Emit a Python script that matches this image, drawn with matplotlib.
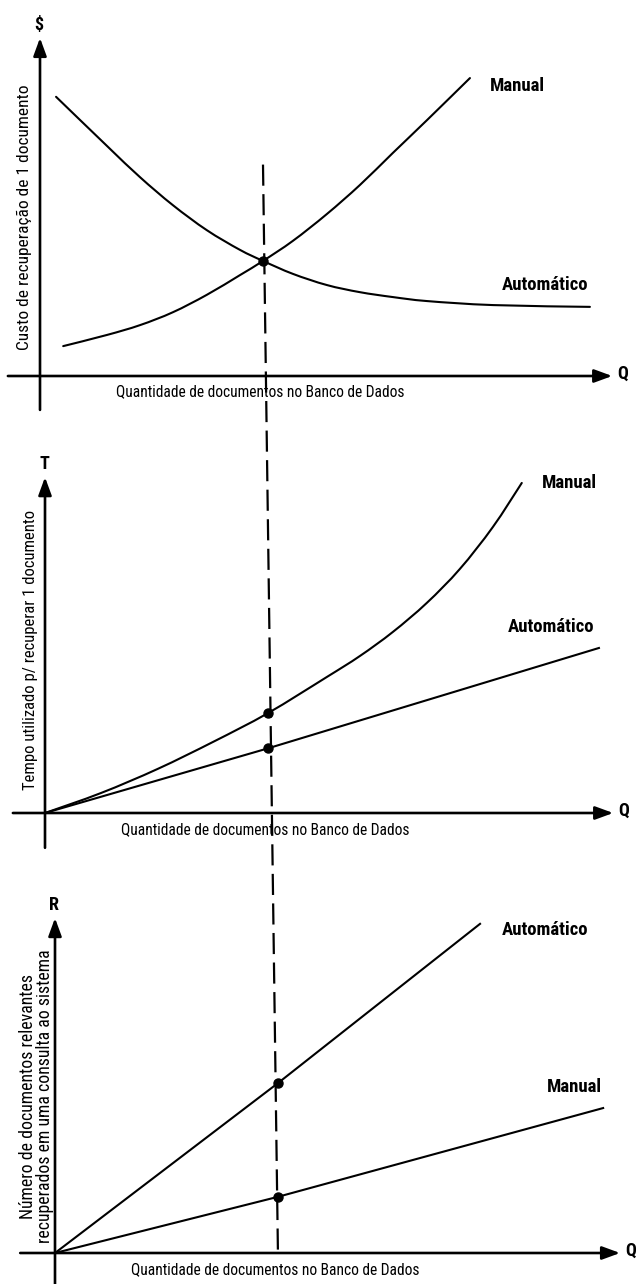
import numpy as np
import matplotlib
matplotlib.use("Agg")
import matplotlib.pyplot as plt
from matplotlib.path import Path
from matplotlib.patches import PathPatch
from matplotlib.lines import Line2D

# ---------------- data (schematic units) ----------------
# Panel 1: cost of retrieving 1 document vs quantity of documents
p1_auto_q = [0.36, 1.50, 2.24, 2.98, 3.74, 4.48, 5.0, 5.67, 6.43, 7.17, 7.91, 8.68, 10.16, 12.33]
p1_auto_v = [6.26, 5.16, 4.46, 3.83, 3.27, 2.83, 2.58, 2.29, 2.04, 1.88, 1.77, 1.68, 1.59, 1.55]
p1_man_q = [0.52, 1.50, 2.24, 2.98, 3.74, 4.48, 5.0, 5.67, 6.43, 7.17, 7.91, 8.68, 9.64]
p1_man_v = [0.67, 0.92, 1.14, 1.43, 1.82, 2.26, 2.58, 3.03, 3.63, 4.28, 5.00, 5.74, 6.68]
p1_mark_q = [5.0]
p1_mark_v = [2.58]

# Panel 2: time used to retrieve 1 document
p2_auto_q = [0.0, 5.0, 12.42]
p2_auto_v = [0.0, 1.45, 3.70]
p2_man_q = [0.0, 1.26, 2.53, 3.78, 5.0, 6.32, 7.06, 7.80, 8.56, 9.30, 10.04, 10.69]
p2_man_v = [0.0, 0.45, 0.99, 1.60, 2.24, 3.05, 3.52, 4.06, 4.71, 5.47, 6.41, 7.40]
p2_mark_q = [5.0, 5.0]
p2_mark_v = [2.24, 1.45]

# Panel 3: number of relevant documents retrieved
p3_auto_q = [0.0, 5.0, 9.53]
p3_auto_v = [0.0, 3.81, 7.38]
p3_man_q = [0.0, 5.0, 12.29]
p3_man_v = [0.0, 1.26, 3.25]
p3_mark_q = [5.0, 5.0]
p3_mark_v = [3.81, 1.26]

x_label = "Quantidade de documentos no Banco de Dados"
y_labels = ["Custo de recuperação de 1 documento",
            "Tempo utilizado p/ recuperar 1 documento",
            "Número de documentos relevantes\nrecuperados em uma consulta ao sistema"]
y_letters = ["$", "T", "R"]
series_names = ["Manual", "Automático"]

# ---------------- layout ----------------
W, H = 640, 1284
U = 44.6  # pixels per unit
FONT = ['Roboto Condensed', 'Liberation Sans Narrow', 'Roboto', 'DejaVu Sans']

fig = plt.figure(figsize=(W / 100, H / 100), dpi=100)
fig.patch.set_facecolor("white")


def panel_axes(ox, oy):
    ax = fig.add_axes([0, 0, 1, 1])
    ax.set_xlim(-ox / U, (W - ox) / U)
    ax.set_ylim((oy - H) / U, oy / U)
    ax.axis("off")
    ax.patch.set_alpha(0)
    return ax


def smooth(ax, xs, ys, lw=1.5):
    pts = np.column_stack([xs, ys]).astype(float)
    n = len(pts)
    verts = [pts[0]]
    codes = [Path.MOVETO]
    for i in range(n - 1):
        p0 = pts[i - 1] if i > 0 else pts[i]
        p1 = pts[i]
        p2 = pts[i + 1]
        p3 = pts[i + 2] if i + 2 < n else pts[i + 1]
        verts += [p1 + (p2 - p0) / 6, p2 - (p3 - p1) / 6, p2]
        codes += [Path.CURVE4] * 3
    ax.add_patch(PathPatch(Path(verts, codes), fill=False, lw=lw,
                           edgecolor="black", capstyle="round", clip_on=False))


def draw_axes(ax, xext, yext, yl, ylx, ylv, letter, xl_v, q_off, yl_size):
    arrow = dict(arrowstyle="-|>,head_length=0.9,head_width=0.33",
                 lw=1.9, color="black", shrinkA=0, shrinkB=0,
                 mutation_scale=12)
    ax.annotate("", xy=(xext[1], 0), xytext=(xext[0], 0), arrowprops=arrow)
    ax.annotate("", xy=(0, yext[1]), xytext=(0, yext[0]), arrowprops=arrow)
    ax.text(xext[1] + q_off, 0.05, "Q", ha="left", va="center",
            fontsize=13, fontweight="bold", family=FONT)
    ax.text(-0.02, yext[1] + 0.30, letter, ha="center", va="center",
            fontsize=13, fontweight="bold", family=FONT)
    ax.text(4.93, xl_v, x_label, ha="center", va="center",
            fontsize=11.2, family=FONT)
    ax.text(ylx, ylv, yl, ha="center", va="center", rotation=90,
            fontsize=yl_size, family=FONT, linespacing=0.95)


def label(ax, q, v, s):
    ax.text(q, v, s, ha="left", va="center", fontsize=13.5,
            fontweight="bold", family=FONT)


# Panel 1
ax1 = panel_axes(40, 376)
draw_axes(ax1, (-0.72, 12.83), (-0.76, 7.58), y_labels[0], -0.34, 3.57,
          y_letters[0], -0.36, 0.12, 12.5)
smooth(ax1, p1_auto_q, p1_auto_v)
smooth(ax1, p1_man_q, p1_man_v)
ax1.plot(p1_mark_q, p1_mark_v, "o", color="black", ms=6.5, clip_on=False)
label(ax1, 10.09, 6.50, series_names[0])
label(ax1, 10.36, 2.04, series_names[1])

# Panel 2
ax2 = panel_axes(45, 813)
draw_axes(ax2, (-0.72, 12.74), (-0.78, 7.53), y_labels[1], -0.33, 3.65,
          y_letters[1], -0.38, 0.12, 12)
ax2.plot(p2_auto_q, p2_auto_v, color="black", lw=1.5, clip_on=False)
smooth(ax2, p2_man_q, p2_man_v)
ax2.plot(p2_mark_q, p2_mark_v, "o", color="black", ms=6.5, clip_on=False)
label(ax2, 11.14, 7.40, series_names[0])
label(ax2, 10.38, 4.17, series_names[1])

# Panel 3
ax3 = panel_axes(55, 1253)
draw_axes(ax3, (-0.78, 12.67), (-0.70, 7.51), y_labels[2], -0.42, 3.52,
          y_letters[2], -0.38, 0.12, 12.8)
ax3.plot(p3_auto_q, p3_auto_v, color="black", lw=1.5, clip_on=False)
ax3.plot(p3_man_q, p3_man_v, color="black", lw=1.5, clip_on=False)
ax3.plot(p3_mark_q, p3_mark_v, "o", color="black", ms=6.5, clip_on=False)
label(ax3, 10.02, 7.24, series_names[1])
label(ax3, 11.03, 3.72, series_names[0])

# Vertical dashed line at the common Q through all three panels
fig.canvas.draw()
top = ax1.transData.transform((5.0, 4.74))
bot = ax3.transData.transform((5.0, -0.10))
inv = fig.transFigure.inverted()
t = inv.transform(top)
b = inv.transform(bot)
fig.add_artist(Line2D([t[0], b[0]], [t[1], b[1]], transform=fig.transFigure,
                      color="black", lw=1.6, linestyle=(0, (9.5, 3.8))))

fig.savefig("out.png", dpi=100, facecolor="white")
